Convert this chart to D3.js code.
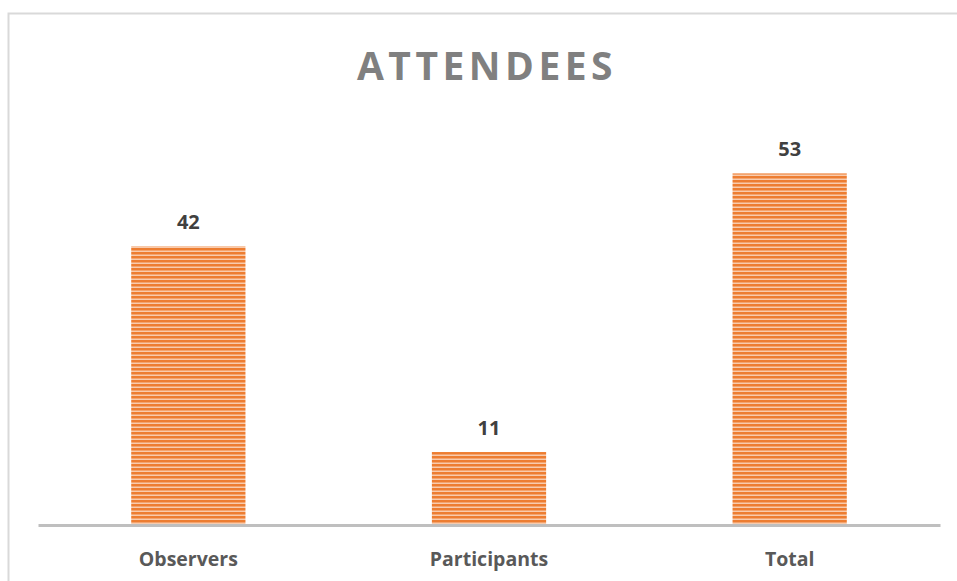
<!DOCTYPE html>
<html>
<head>
    <meta charset="UTF-8">
    <title>Attendees</title>
    <script src="https://cdn.jsdelivr.net/npm/d3@7"></script>
    <style>
        body { margin: 0; background: #fff; }
    </style>
</head>
<body>
<svg id="chart" width="957" height="581"></svg>
<script>
    // chart data
    var categories = ["Observers", "Participants", "Total"];
    var values = [42, 11, 53];
    var chartTitle = "ATTENDEES";

    var svg = d3.select("#chart");
    var font = "'Open Sans', 'Liberation Sans', sans-serif";

    // striped fill like the original
    var defs = svg.append("defs");
    var pat = defs.append("pattern")
            .attr("id", "stripes")
            .attr("width", 8)
            .attr("height", 4)
            .attr("patternUnits", "userSpaceOnUse");
    pat.append("rect").attr("width", 8).attr("height", 4).attr("fill", "#f8cbad");
    pat.append("rect").attr("y", 0).attr("width", 8).attr("height", 2).attr("fill", "#ed7d31");
    pat.append("rect").attr("y", 2).attr("width", 8).attr("height", 1).attr("fill", "#f4a46e");

    // outer chart border
    svg.append("rect")
            .attr("x", 8.5)
            .attr("y", 13.5)
            .attr("width", 960)
            .attr("height", 600)
            .attr("fill", "none")
            .attr("stroke", "#d9d9d9")
            .attr("stroke-width", 2);

    var left = 38, right = 940, baseline = 525;

    var x = d3.scaleBand()
            .domain(categories)
            .range([left, right])
            .paddingInner(0.62)
            .paddingOuter(0.31);

    var y = d3.scaleLinear()
            .domain([0, 60])
            .range([baseline, 127]);

    svg.append("text")
            .attr("x", 487)
            .attr("y", 80)
            .attr("text-anchor", "middle")
            .attr("font-family", font)
            .attr("font-weight", "bold")
            .attr("font-size", 39)
            .attr("letter-spacing", 4.5)
            .attr("fill", "#808080")
            .text(chartTitle);

    var rows = categories.map(function (c, i) {
        return { name: c, value: values[i] };
    });

    svg.selectAll("rect.bar")
            .data(rows)
            .enter()
            .append("rect")
            .attr("class", "bar")
            .attr("x", function (d) { return x(d.name); })
            .attr("y", function (d) { return y(d.value); })
            .attr("width", x.bandwidth())
            .attr("height", function (d) { return baseline - y(d.value); })
            .attr("fill", "url(#stripes)");

    svg.selectAll("text.val")
            .data(rows)
            .enter()
            .append("text")
            .attr("class", "val")
            .attr("x", function (d) { return x(d.name) + x.bandwidth() / 2; })
            .attr("y", function (d) { return y(d.value) - 17; })
            .attr("text-anchor", "middle")
            .attr("font-family", font)
            .attr("font-weight", "bold")
            .attr("font-size", 20)
            .attr("fill", "#404040")
            .text(function (d) { return d.value; });

    // category axis
    var axis = svg.append("g")
            .attr("transform", "translate(0," + baseline + ")")
            .call(d3.axisBottom(x).tickSize(0).tickPadding(27));
    axis.select(".domain")
            .attr("stroke", "#bfbfbf")
            .attr("stroke-width", 3);
    axis.selectAll("text")
            .attr("font-family", font)
            .attr("font-weight", "bold")
            .attr("font-size", 19.5)
            .attr("fill", "#595959");
</script>
</body>
</html>
